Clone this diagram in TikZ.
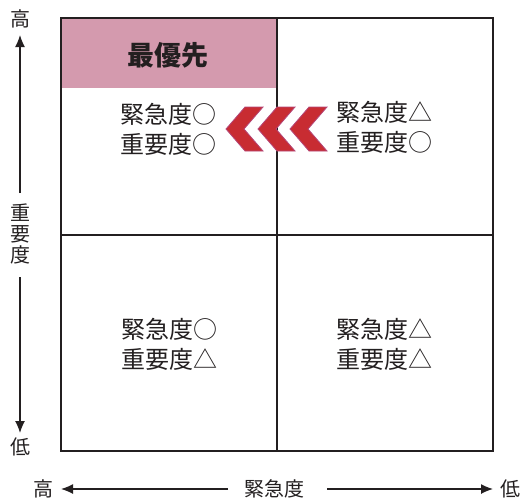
\documentclass[tikz,border=0pt]{standalone}
\usepackage{fontspec}
\usetikzlibrary{arrows.meta}
\setmainfont{Noto Sans CJK JP}
\newfontfamily\cjk{Noto Sans CJK JP}
\definecolor{pinkbox}{RGB}{212,154,174}
\definecolor{chevred}{RGB}{200,44,50}
\definecolor{chevedge}{RGB}{180,70,120}
\definecolor{ink}{RGB}{35,31,32}
\begin{document}
\begin{tikzpicture}[x=1pt,y=-1pt,
  frame/.style={draw=ink,line width=1.8pt},
  axis/.style={draw=ink,line width=1.3pt,-{Latex[length=12pt,width=10pt]}},
  cell/.style={font=\cjk\fontsize{24}{30}\selectfont,text=ink,align=center,inner sep=0pt},
  axlabel/.style={font=\cjk\fontsize{20}{21}\selectfont,text=ink,inner sep=0pt},
  chev/.style={fill=chevred,draw=chevedge,line width=0.8pt,line join=miter}]
\useasboundingbox (0,0) rectangle (521,501);
% pink header
\fill[pinkbox] (61,18) rectangle (277,88);
\node[font=\cjk\bfseries\fontsize{27}{30}\selectfont,text=ink,inner sep=0pt] (top) at (168,55) {最優先};
% grid
\draw[frame] (61,18) rectangle (493,451);
\draw[frame] (277,18) -- (277,451);
\draw[frame] (61,235) -- (493,235);
% cell texts
\node[cell] (tl) at (168,129) {緊急度○\\重要度○};
\node[cell] (tr) at (384,127) {緊急度△\\重要度○};
\node[cell] (bl) at (169,344) {緊急度○\\重要度△};
\node[cell] (br) at (384,344) {緊急度△\\重要度△};
% chevrons
\foreach \dx in {0,32,64}{
  \filldraw[chev] (226+\dx,129) -- (245+\dx,107) -- (263+\dx,107) -- (244+\dx,129) -- (263+\dx,151) -- (245+\dx,151) -- cycle;
}
% vertical axis
\node[axlabel] (vhi) at (20,19) {高};
\node[axlabel] (vlo) at (20,447) {低};
\node[axlabel,align=center] (vlab) at (20,234) {重\\要\\度};
\coordinate (vtop1) at (20,35);
\coordinate (vbot1) at (20,433);
\coordinate (vs1) at (20,193);
\coordinate (vs2) at (20,277);
\draw[axis] (vs1) -- (vtop1);
\draw[axis] (vs2) -- (vbot1);
% horizontal axis
\node[axlabel] (hhi) at (43,489) {高};
\node[axlabel] (hlo) at (510,489) {低};
\node[axlabel] (hlab) at (274,489) {緊急度};
\coordinate (hl) at (61,489);
\coordinate (hr) at (493,489);
\coordinate (hs1) at (228,489);
\coordinate (hs2) at (327,489);
\draw[axis] (hs1) -- (hl);
\draw[axis] (hs2) -- (hr);
\end{tikzpicture}
\end{document}
